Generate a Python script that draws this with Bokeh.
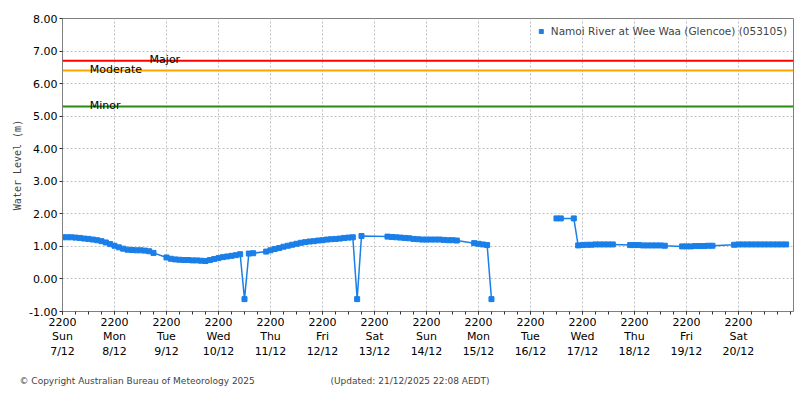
import pandas as pd
from bokeh.embed import file_html
from bokeh.models import (ColumnDataSource, FixedTicker, Label, Legend, LegendItem,
                          PrintfTickFormatter, Range1d, Span)
from bokeh.plotting import figure
from bokeh.resources import INLINE

STATION = "Namoi River at Wee Waa (Glencoe) (053105)"
ORIGIN = pd.Timestamp("2025-12-07 22:00")
X_END = pd.Timestamp("2025-12-21 23:24")
STEP = pd.Timedelta(hours=2)

# water level readings every 2 hours (m), None = no reading plotted
seg_a_start = "2025-12-07 22:00"
seg_a_levels = [
    1.28, 1.28, 1.28, 1.27, 1.26, 1.24, 1.23, 1.21, 1.19, 1.16, 1.12, 1.07,
    1.02, 0.97, 0.93, 0.90, 0.89, 0.88, 0.88, 0.87, 0.85, 0.80, None, None,
    0.66, 0.62, 0.60, 0.59, 0.58, 0.58, 0.57, 0.57, 0.56, 0.55, 0.58, 0.61,
    0.64, 0.67, 0.69, 0.71, 0.73, 0.76, -0.62, 0.78, 0.79, None, None, 0.84,
    0.88, 0.92, 0.95, 0.99, 1.02, 1.05, 1.08, 1.11, 1.13, 1.15, 1.16, 1.18,
    1.19, 1.21, 1.22, 1.23, 1.24, 1.26, 1.27, 1.28, -0.62, 1.32, None, None,
    None, None, None, 1.30, 1.29, 1.28, 1.27, 1.26, 1.25, 1.23, 1.22, 1.21,
    1.21, 1.21, 1.21, 1.21, 1.20, 1.19, 1.19, 1.18, None, None, None, 1.10,
    1.08, 1.06, 1.04, -0.62,
]
# gauge back online after outage
seg_b_start = "2025-12-17 10:00"
seg_b_levels = [
    1.86, 1.86, None, None, 1.86,
    1.03, 1.04, 1.05, 1.05, 1.06, 1.06, 1.06, 1.06, 1.06, None, None, None,
    1.04, 1.04, 1.04, 1.03, 1.03, 1.03, 1.03, 1.03, 1.02, None, None, None,
    1.00, 1.00, 1.00, 1.01, 1.01, 1.01, 1.02, 1.02, None, None, None, None,
    1.05, 1.06, 1.06, 1.06, 1.06, 1.06, 1.06, 1.06, 1.06, 1.06, 1.06, 1.06, 1.06,
]

flood_names = ["Minor", "Moderate", "Major"]
flood_levels = [5.30, 6.40, 6.70]
flood_colors = ["#2a8c12", "#ffa500", "#ff0000"]
flood_label_at = {"Minor": 12.6, "Moderate": 12.6, "Major": 40.2}  # hours, label placement

tick_days = ["Sun", "Mon", "Tue", "Wed", "Thu", "Fri", "Sat",
             "Sun", "Mon", "Tue", "Wed", "Thu", "Fri", "Sat"]
tick_dates = ["7/12", "8/12", "9/12", "10/12", "11/12", "12/12", "13/12",
              "14/12", "15/12", "16/12", "17/12", "18/12", "19/12", "20/12"]

COPYRIGHT = "\u00a9 Copyright Australian Bureau of Meteorology 2025"
UPDATED = "(Updated: 21/12/2025 22:08 AEDT)"

FONT = "DejaVu Sans"
LINE_COLOR = "#1a7fe8"


def _hours(ts):
    return (pd.Timestamp(ts) - ORIGIN).total_seconds() / 3600


def _segment(start, levels):
    t0 = pd.Timestamp(start)
    xs, ys = [], []
    for i, lvl in enumerate(levels):
        if lvl is None:
            continue
        xs.append(_hours(t0 + i * STEP))
        ys.append(lvl)
    return ColumnDataSource(dict(x=xs, y=ys))


p = figure(width=800, height=370, output_backend="svg", toolbar_location=None,
           x_range=Range1d(0, _hours(X_END)), y_range=Range1d(-1, 8),
           min_border_left=62, min_border_right=7, min_border_top=18, min_border_bottom=59)
p.background_fill_color = "white"
p.border_fill_color = "white"
p.outline_line_color = "#808080"

for name, lvl, col in zip(flood_names, flood_levels, flood_colors):
    p.add_layout(Span(location=lvl, dimension="width", line_color=col, line_width=2))
    p.add_layout(Label(x=flood_label_at[name], y=lvl, text=name, text_baseline="alphabetic",
                       y_offset=1, text_font=FONT, text_font_size="11px", text_color="black"))

dots = None
for start, levels in [(seg_a_start, seg_a_levels), (seg_b_start, seg_b_levels)]:
    src = _segment(start, levels)
    p.line("x", "y", source=src, line_color=LINE_COLOR, line_width=1.5)
    dots = p.scatter("x", "y", source=src, marker="square", size=5, color=LINE_COLOR)

# x axis: one labelled tick per day at 2200, minor every 6 hours
day_ts = [ORIGIN + pd.Timedelta(days=i) for i in range(len(tick_days))]
tick_hours = [int(_hours(t)) for t in day_ts]
p.xaxis.ticker = FixedTicker(ticks=tick_hours, minor_ticks=list(range(0, 337, 6)))
p.xaxis.major_label_overrides = {
    h: f"{t.strftime('%H%M')}\n{d}\n{dt}"
    for h, t, d, dt in zip(tick_hours, day_ts, tick_days, tick_dates)
}
p.yaxis.ticker = FixedTicker(ticks=list(range(-1, 9)))
p.yaxis.formatter = PrintfTickFormatter(format="%.2f")

for ax in (p.xaxis, p.yaxis):
    ax.axis_line_color = "#808080"
    ax.major_tick_line_color = "#333333"
    ax.minor_tick_line_color = "#333333"
    ax.major_tick_in = 0
    ax.major_tick_out = 3
    ax.minor_tick_in = 0
    ax.minor_tick_out = 3
    ax.major_label_text_font = FONT
    ax.major_label_text_font_size = "11px"
    ax.major_label_text_color = "black"
p.yaxis.minor_tick_out = 0
p.xaxis.major_label_standoff = 1
p.xaxis.major_label_text_line_height = 1.15
p.yaxis.major_label_standoff = 2

p.yaxis.axis_label = "Water Level (m)"
p.yaxis.axis_label_text_font = "DejaVu Sans Mono"
p.yaxis.axis_label_text_font_size = "10px"
p.yaxis.axis_label_text_font_style = "normal"
p.yaxis.axis_label_standoff = 3

p.grid.grid_line_color = "#c0c0c0"
p.grid.grid_line_dash = "2 2"

legend = Legend(items=[LegendItem(label=STATION, renderers=[dots])], location="top_right",
                border_line_color=None, background_fill_alpha=0, padding=0, margin=6,
                glyph_width=10, glyph_height=14, label_height=14, label_standoff=5,
                label_text_font=FONT, label_text_font_size="10.5px")
p.add_layout(legend)

# footer strip with copyright and update time, its own root so it is not frame-aligned
foot = figure(width=800, height=30, output_backend="svg", toolbar_location=None,
              x_range=Range1d(0, 800), y_range=Range1d(0, 30),
              min_border=0, x_axis_type=None, y_axis_type=None)
foot.outline_line_color = None
foot.grid.visible = False
foot.add_layout(Label(x=19, y=20, x_units="screen", y_units="screen", text=COPYRIGHT,
                      text_baseline="middle", text_font=FONT, text_font_size="9px"))
foot.add_layout(Label(x=330, y=20, x_units="screen", y_units="screen", text=UPDATED,
                      text_baseline="middle", text_font=FONT, text_font_size="9px"))

open("out.html", "w").write(file_html([p, foot], INLINE))
